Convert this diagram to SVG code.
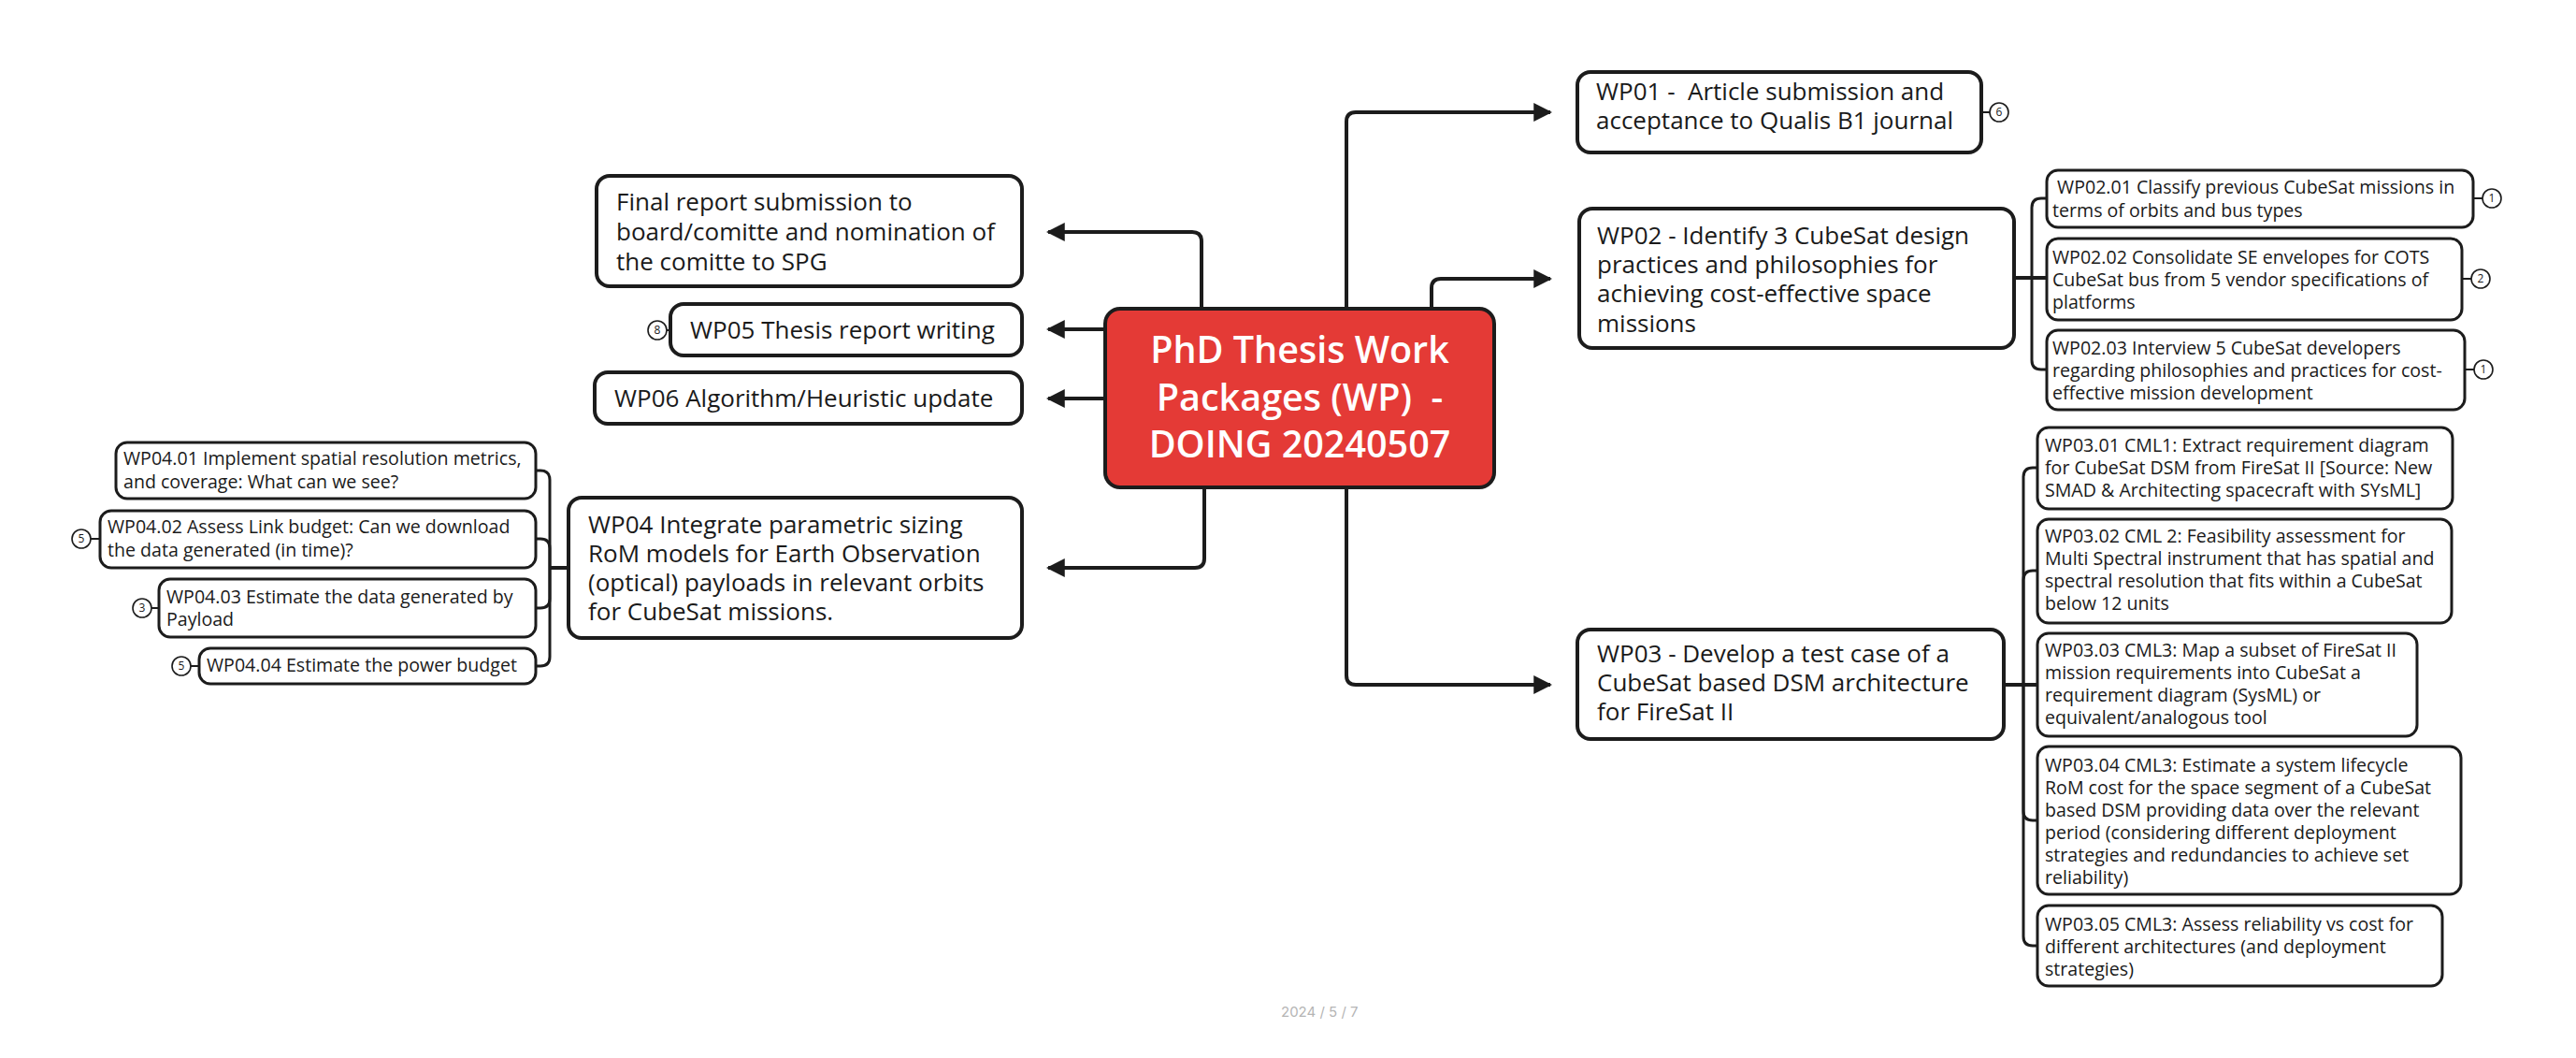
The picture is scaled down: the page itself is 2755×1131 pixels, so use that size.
<svg xmlns="http://www.w3.org/2000/svg" width="2755" height="1131" viewBox="0 0 2755 1131">
<defs>
<marker id="arr" markerUnits="userSpaceOnUse" markerWidth="20" markerHeight="20" viewBox="0 0 18 18" refX="16" refY="9" orient="auto">
<path d="M0,0 L18,9 L0,18 z" fill="#1c1c1c"/>
</marker>
<style>
.bg{fill:#ffffff}
.main{fill:#ffffff;stroke:#1c1c1c;stroke-width:4}
.sub{fill:#ffffff;stroke:#1c1c1c;stroke-width:3}
.root{fill:#e43a36;stroke:#1c1c1c;stroke-width:4}
.conn{fill:none;stroke:#1c1c1c;stroke-width:4;stroke-linejoin:round}
.cconn{fill:none;stroke:#1c1c1c;stroke-width:3;stroke-linejoin:round}
.badge{fill:#ffffff;stroke:#1c1c1c;stroke-width:1.6}
.bl{fill:none;stroke:#1c1c1c;stroke-width:2}
.tm{font-family:"Open Sans","Liberation Sans",sans-serif;font-size:26px;fill:#1a1a1a}
.ts{font-family:"Open Sans","Liberation Sans",sans-serif;font-size:19.6px;fill:#1a1a1a}
.tr{font-family:"Open Sans","Liberation Sans",sans-serif;font-size:39.5px;font-weight:600;fill:#ffffff;text-anchor:middle}
.tb{font-family:"Open Sans","Liberation Sans",sans-serif;font-size:12px;fill:#1a1a1a;text-anchor:middle}
.foot{font-family:"Inter","Liberation Sans",sans-serif;font-size:15px;fill:#b5b5b5}
</style>
</defs>
<rect class="bg" x="0" y="0" width="2755" height="1131"/>

<g id="connectors">
<path class="conn" d="M1285,331 V258 Q1285,248 1275,248 H1121" marker-end="url(#arr)"/>
<path class="conn" d="M1182,352 H1121" marker-end="url(#arr)"/>
<path class="conn" d="M1182,426 H1121" marker-end="url(#arr)"/>
<path class="conn" d="M1288,521 V597 Q1288,607 1278,607 H1121" marker-end="url(#arr)"/>
<path class="conn" d="M1440,330 V130 Q1440,120 1450,120 H1658" marker-end="url(#arr)"/>
<path class="conn" d="M1531,330 V308 Q1531,298 1541,298 H1658" marker-end="url(#arr)"/>
<path class="conn" d="M1440,521 V722 Q1440,732 1450,732 H1658" marker-end="url(#arr)"/>
<!-- WP02 children -->
<path class="conn" d="M2154,297 H2189"/>
<path class="cconn" d="M2173,297 V222 Q2173,212 2183,212 H2189"/>
<path class="cconn" d="M2173,297 V385 Q2173,395 2183,395 H2189"/>
<!-- WP03 children -->
<path class="conn" d="M2143,732 H2179"/>
<path class="cconn" d="M2164,732 V510 Q2164,500 2174,500 H2179"/>
<path class="cconn" d="M2164,732 V620 Q2164,610 2174,610 H2179"/>
<path class="cconn" d="M2164,732 V867 Q2164,877 2174,877 H2179"/>
<path class="cconn" d="M2164,732 V1001 Q2164,1011 2174,1011 H2179"/>
<!-- WP04 children -->
<path class="conn" d="M608,607 H588"/>
<path class="cconn" d="M588,607 V513 Q588,503 578,503 H573"/>
<path class="cconn" d="M588,607 V586 Q588,576 578,576 H573"/>
<path class="cconn" d="M588,607 V640 Q588,650 578,650 H573"/>
<path class="cconn" d="M588,607 V702 Q588,712 578,712 H573"/>
</g>

<g id="root">
<rect class="root" x="1182" y="330" width="416" height="191" rx="16"/>
<text class="tr" x="1390" y="388">PhD Thesis Work</text>
<text class="tr" x="1390" y="439" xml:space="preserve">Packages (WP)  -</text>
<text class="tr" x="1390" y="489">DOING 20240507</text>
</g>

<g id="final-report">
<rect class="main" x="638" y="188" width="455" height="118" rx="14"/>
<text class="tm" x="659" y="225">Final report submission to</text>
<text class="tm" x="659" y="257">board/comitte and nomination of</text>
<text class="tm" x="659" y="289">the comitte to SPG</text>
</g>

<g id="wp05">
<rect class="main" x="717" y="325" width="376" height="55" rx="14"/>
<text class="tm" x="738" y="362">WP05 Thesis report writing</text>
<line class="bl" x1="713" y1="353" x2="717" y2="353"/>
<circle class="badge" cx="703" cy="353" r="10"/>
<text class="tb" x="703" y="357">8</text>
</g>

<g id="wp06">
<rect class="main" x="636" y="398" width="457" height="55" rx="14"/>
<text class="tm" x="657" y="435">WP06 Algorithm/Heuristic update</text>
</g>

<g id="wp04">
<rect class="main" x="608" y="532" width="485" height="150" rx="14"/>
<text class="tm" x="629" y="570">WP04 Integrate parametric sizing</text>
<text class="tm" x="629" y="601">RoM models for Earth Observation</text>
<text class="tm" x="629" y="632">(optical) payloads in relevant orbits</text>
<text class="tm" x="629" y="663">for CubeSat missions.</text>
</g>

<g id="wp04-01">
<rect class="sub" x="124" y="473" width="449" height="60" rx="12"/>
<text class="ts" x="132" y="497">WP04.01 Implement spatial resolution metrics,</text>
<text class="ts" x="132" y="522">and coverage: What can we see?</text>
</g>

<g id="wp04-02">
<rect class="sub" x="107" y="546" width="466" height="61" rx="12"/>
<text class="ts" x="115" y="570">WP04.02 Assess Link budget: Can we download</text>
<text class="ts" x="115" y="595">the data generated (in time)?</text>
<line class="bl" x1="97" y1="576" x2="107" y2="576"/>
<circle class="badge" cx="87" cy="576" r="10"/>
<text class="tb" x="87" y="580">5</text>
</g>

<g id="wp04-03">
<rect class="sub" x="170" y="619" width="403" height="62" rx="12"/>
<text class="ts" x="178" y="645">WP04.03 Estimate the data generated by</text>
<text class="ts" x="178" y="669">Payload</text>
<line class="bl" x1="162" y1="650" x2="170" y2="650"/>
<circle class="badge" cx="152" cy="650" r="10"/>
<text class="tb" x="152" y="654">3</text>
</g>

<g id="wp04-04">
<rect class="sub" x="213" y="693" width="360" height="38" rx="12"/>
<text class="ts" x="221" y="718">WP04.04 Estimate the power budget</text>
<line class="bl" x1="204" y1="712" x2="213" y2="712"/>
<circle class="badge" cx="194" cy="712" r="10"/>
<text class="tb" x="194" y="716">5</text>
</g>

<g id="wp01">
<rect class="main" x="1687" y="77" width="432" height="86" rx="14"/>
<text class="tm" x="1707" y="107" xml:space="preserve">WP01 -  Article submission and</text>
<text class="tm" x="1707" y="138">acceptance to Qualis B1 journal</text>
<line class="bl" x1="2119" y1="120" x2="2128" y2="120"/>
<circle class="badge" cx="2138" cy="120" r="10"/>
<text class="tb" x="2138" y="124">6</text>
</g>

<g id="wp02">
<rect class="main" x="1689" y="223" width="465" height="149" rx="14"/>
<text class="tm" x="1708" y="261">WP02 - Identify 3 CubeSat design</text>
<text class="tm" x="1708" y="292">practices and philosophies for</text>
<text class="tm" x="1708" y="323">achieving cost-effective space</text>
<text class="tm" x="1708" y="355">missions</text>
</g>

<g id="wp02-01">
<rect class="sub" x="2189" y="182" width="456" height="61" rx="12"/>
<text class="ts" x="2195" y="207" xml:space="preserve"> WP02.01 Classify previous CubeSat missions in</text>
<text class="ts" x="2195" y="232">terms of orbits and bus types</text>
<line class="bl" x1="2645" y1="212" x2="2655" y2="212"/>
<circle class="badge" cx="2665" cy="212" r="10"/>
<text class="tb" x="2665" y="216">1</text>
</g>

<g id="wp02-02">
<rect class="sub" x="2189" y="255" width="444" height="87" rx="12"/>
<text class="ts" x="2195" y="282">WP02.02 Consolidate SE envelopes for COTS</text>
<text class="ts" x="2195" y="306">CubeSat bus from 5 vendor specifications of</text>
<text class="ts" x="2195" y="330">platforms</text>
<line class="bl" x1="2633" y1="298" x2="2643" y2="298"/>
<circle class="badge" cx="2653" cy="298" r="10"/>
<text class="tb" x="2653" y="302">2</text>
</g>

<g id="wp02-03">
<rect class="sub" x="2189" y="353" width="447" height="85" rx="12"/>
<text class="ts" x="2195" y="379">WP02.03 Interview 5 CubeSat developers</text>
<text class="ts" x="2195" y="403">regarding philosophies and practices for cost-</text>
<text class="ts" x="2195" y="427">effective mission development</text>
<line class="bl" x1="2636" y1="395" x2="2646" y2="395"/>
<circle class="badge" cx="2656" cy="395" r="10"/>
<text class="tb" x="2656" y="399">1</text>
</g>

<g id="wp03">
<rect class="main" x="1687" y="673" width="456" height="117" rx="14"/>
<text class="tm" x="1708" y="708">WP03 - Develop a test case of a</text>
<text class="tm" x="1708" y="739">CubeSat based DSM architecture</text>
<text class="tm" x="1708" y="770">for FireSat II</text>
</g>

<g id="wp03-01">
<rect class="sub" x="2179" y="457" width="444" height="87" rx="12"/>
<text class="ts" x="2187" y="483">WP03.01 CML1: Extract requirement diagram</text>
<text class="ts" x="2187" y="507">for CubeSat DSM from FireSat II [Source: New</text>
<text class="ts" x="2187" y="531">SMAD &amp; Architecting spacecraft with SYsML]</text>
</g>

<g id="wp03-02">
<rect class="sub" x="2179" y="555" width="443" height="111" rx="12"/>
<text class="ts" x="2187" y="580">WP03.02 CML 2: Feasibility assessment for</text>
<text class="ts" x="2187" y="604">Multi Spectral instrument that has spatial and</text>
<text class="ts" x="2187" y="628">spectral resolution that fits within a CubeSat</text>
<text class="ts" x="2187" y="652">below 12 units</text>
</g>

<g id="wp03-03">
<rect class="sub" x="2179" y="677" width="406" height="110" rx="12"/>
<text class="ts" x="2187" y="702">WP03.03 CML3: Map a subset of FireSat II</text>
<text class="ts" x="2187" y="726">mission requirements into CubeSat a</text>
<text class="ts" x="2187" y="750">requirement diagram (SysML) or</text>
<text class="ts" x="2187" y="774">equivalent/analogous tool</text>
</g>

<g id="wp03-04">
<rect class="sub" x="2179" y="798" width="453" height="158" rx="12"/>
<text class="ts" x="2187" y="825">WP03.04 CML3: Estimate a system lifecycle</text>
<text class="ts" x="2187" y="849">RoM cost for the space segment of a CubeSat</text>
<text class="ts" x="2187" y="873">based DSM providing data over the relevant</text>
<text class="ts" x="2187" y="897">period (considering different deployment</text>
<text class="ts" x="2187" y="921">strategies and redundancies to achieve set</text>
<text class="ts" x="2187" y="945">reliability)</text>
</g>

<g id="wp03-05">
<rect class="sub" x="2179" y="968" width="433" height="86" rx="12"/>
<text class="ts" x="2187" y="995">WP03.05 CML3: Assess reliability vs cost for</text>
<text class="ts" x="2187" y="1019">different architectures (and deployment</text>
<text class="ts" x="2187" y="1043">strategies)</text>
</g>

<text class="foot" x="1370" y="1087">2024 / 5 / 7</text>
</svg>
